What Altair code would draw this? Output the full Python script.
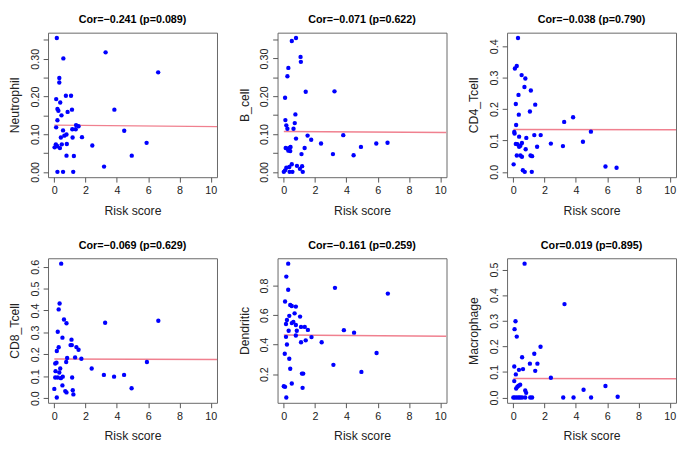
import altair as alt
import pandas as pd

# ---- data ----
names = ["Neutrophil", "B_cell", "CD4_Tcell", "CD8_Tcell", "Dendritic", "Macrophage"]
titles = ["Cor=\u22120.241 (p=0.089)", "Cor=\u22120.071 (p=0.622)", "Cor=\u22120.038 (p=0.790)",
          "Cor=\u22120.069 (p=0.629)", "Cor=\u22120.161 (p=0.259)", "Cor=0.019 (p=0.895)"]

risk_neutrophil = [0.16,0.58,3.28,6.64,0.32,0.32,0.12,0.38,0.74,1.07,0.20,0.26,1.13,0.85,0.46,0.20,3.84,0.12,1.39,1.55,0.56,1.15,1.37,4.47,0.78,0.64,0.42,1.17,1.77,0.10,0.48,0.80,0.02,0.20,0.36,2.43,5.90,0.78,1.25,4.95,3.18,0.20,0.56,1.21]
val_neutrophil = [0.355,0.301,0.317,0.264,0.249,0.237,0.193,0.184,0.202,0.202,0.167,0.162,0.165,0.159,0.150,0.137,0.165,0.118,0.124,0.121,0.110,0.113,0.113,0.109,0.099,0.096,0.091,0.091,0.092,0.073,0.073,0.074,0.065,0.068,0.063,0.070,0.077,0.043,0.042,0.043,0.014,0.0,0.0,0.0]

risk_bcell = [0.78,0.51,1.07,1.09,0.29,0.23,1.40,3.24,0.08,0.74,0.10,0.70,0.16,0.23,0.62,1.52,3.80,0.78,1.75,2.38,5.91,6.63,4.93,1.33,0.12,0.25,0.37,0.43,0.29,0.41,1.13,3.14,4.46,0.51,0.84,1.17,0.16,0.35,1.03,0.00,0.08,0.37,0.55,1.21]
val_bcell = [0.354,0.346,0.304,0.291,0.275,0.253,0.212,0.213,0.196,0.152,0.137,0.129,0.123,0.114,0.114,0.096,0.097,0.088,0.085,0.075,0.075,0.077,0.066,0.063,0.063,0.061,0.063,0.066,0.056,0.055,0.047,0.047,0.044,0.020,0.016,0.015,0.011,0.013,0.008,0.0,0.004,0.0,0.0,0.0]

risk_cd4 = [0.30,0.22,0.10,0.53,0.77,0.71,1.12,0.33,0.16,1.40,1.06,0.35,3.25,3.82,0.18,0.06,0.08,4.96,1.34,1.75,0.37,0.83,0.16,0.26,0.55,2.40,4.45,3.17,1.52,0.37,0.45,0.79,0.22,0.45,0.55,1.10,1.20,0.02,0.61,0.73,1.18,5.89,6.60]
val_cd4 = [0.426,0.337,0.329,0.308,0.297,0.270,0.259,0.245,0.216,0.214,0.192,0.182,0.159,0.174,0.149,0.127,0.122,0.128,0.117,0.117,0.112,0.108,0.089,0.088,0.092,0.090,0.096,0.082,0.080,0.080,0.083,0.072,0.052,0.052,0.048,0.052,0.050,0.024,0.005,0.0,0.0,0.017,0.013]

risk_cd8 = [0.44,0.34,0.28,0.62,0.78,3.25,6.65,0.22,0.52,1.10,1.04,1.12,1.41,0.28,1.55,0.16,0.82,1.33,1.73,0.76,5.92,0.06,0.14,0.38,0.32,2.39,0.08,0.06,0.22,0.42,0.54,1.14,3.17,3.82,4.46,0.52,4.94,0.00,0.70,0.78,1.18,1.22,0.16]
val_cd8 = [0.614,0.432,0.405,0.359,0.342,0.344,0.353,0.303,0.276,0.267,0.242,0.242,0.233,0.232,0.221,0.215,0.183,0.186,0.180,0.165,0.165,0.158,0.162,0.135,0.117,0.135,0.123,0.094,0.094,0.091,0.098,0.094,0.106,0.098,0.106,0.058,0.045,0.042,0.032,0.026,0.036,0.017,0.003]

risk_dendritic = [0.28,0.16,0.28,0.08,3.27,6.65,0.41,0.51,0.77,0.69,0.35,1.04,0.20,0.61,0.51,0.14,0.77,1.10,1.34,1.54,0.31,0.83,3.84,4.49,0.77,0.14,1.77,1.40,1.10,2.42,0.20,0.06,5.93,0.35,0.41,3.17,4.96,1.16,1.24,0.51,0.00,0.08,1.20,0.16]
val_dendritic = [0.949,0.861,0.772,0.692,0.785,0.746,0.669,0.662,0.658,0.612,0.595,0.590,0.567,0.554,0.546,0.540,0.533,0.520,0.520,0.500,0.494,0.494,0.498,0.481,0.462,0.453,0.451,0.429,0.416,0.416,0.401,0.338,0.343,0.304,0.237,0.263,0.215,0.204,0.204,0.137,0.118,0.114,0.107,0.042]

risk_macrophage = [0.72,3.27,0.14,0.08,0.22,1.74,1.34,0.56,1.06,1.54,1.40,0.06,0.36,0.62,0.16,2.40,0.06,0.18,0.26,0.34,0.44,0.76,0.82,5.89,4.49,6.67,0.00,0.10,0.22,0.34,0.44,0.56,0.76,1.08,1.20,3.19,3.85,4.97]
val_macrophage = [0.523,0.365,0.298,0.267,0.238,0.198,0.171,0.157,0.132,0.132,0.104,0.121,0.108,0.111,0.090,0.077,0.064,0.035,0.042,0.046,0.050,0.027,0.018,0.045,0.030,0.003,0,0,0,0,0,0,0,0,0,0,0,0]

# fitted line value at x=0 and at the right plot edge
line_start = [0.124, 0.107, 0.135, 0.179, 0.466, 0.074]
line_end = [0.120, 0.104, 0.134, 0.176, 0.457, 0.073]

x_ticks = [0, 2, 4, 6, 8, 10]
y_ticks = [
    [0, 0.05, 0.10, 0.15, 0.20, 0.25, 0.30, 0.35],
    [0, 0.05, 0.10, 0.15, 0.20, 0.25, 0.30, 0.35],
    [0.0, 0.1, 0.2, 0.3, 0.4],
    [0.0, 0.1, 0.2, 0.3, 0.4, 0.5, 0.6],
    [0.2, 0.4, 0.6, 0.8],
    [0.0, 0.1, 0.2, 0.3, 0.4, 0.5],
]
label_expr = [
    "round(datum.value*100) % 10 == 0 ? format(datum.value, '.2f') : ''",
    "round(datum.value*100) % 10 == 0 ? format(datum.value, '.2f') : ''",
    "format(datum.value, '.1f')",
    "format(datum.value, '.1f')",
    "format(datum.value, '.1f')",
    "format(datum.value, '.1f')",
]

xs_all = [risk_neutrophil, risk_bcell, risk_cd4, risk_cd8, risk_dendritic, risk_macrophage]
ys_all = [val_neutrophil, val_bcell, val_cd4, val_cd8, val_dendritic, val_macrophage]

FONT = "Liberation Sans"
XDOM = [-0.4, 10.4]
W, H = 173, 148


def panel(i):
    xs, ys = xs_all[i], ys_all[i]
    assert len(xs) == len(ys)
    lo, hi = min(ys), max(ys)
    pad = (hi - lo) * 0.04
    ydom = [lo - pad, hi + pad]
    df = pd.DataFrame({"risk": xs, "val": ys})
    ldf = pd.DataFrame({"risk": [0, XDOM[1]], "val": [line_start[i], line_end[i]]})
    xenc = alt.X("risk:Q", scale=alt.Scale(domain=XDOM, nice=False, zero=False),
                 axis=alt.Axis(values=x_ticks, title="Risk score", format="d",
                               labelOverlap=False, labelFlush=False, titlePadding=9))
    yenc = alt.Y("val:Q", scale=alt.Scale(domain=ydom, nice=False, zero=False),
                 axis=alt.Axis(values=y_ticks[i], labelExpr=label_expr[i], title=names[i],
                               labelOverlap=False, labelFlush=False, labelAngle=270,
                               labelAlign="center", labelBaseline="bottom", titlePadding=8))
    pts = alt.Chart(df).mark_circle(size=20, color="#0000FF", opacity=1).encode(x=xenc, y=yenc)
    ln = alt.Chart(ldf).mark_line(color="#F0808F", strokeWidth=1.5, clip=True).encode(x=xenc, y=yenc)
    return alt.layer(ln, pts).properties(
        width=W, height=H,
        title=alt.TitleParams(titles[i], fontSize=11, fontWeight="bold", font=FONT,
                              color="#000", offset=8, anchor="middle"),
    )


row1 = alt.hconcat(panel(0), panel(1), panel(2), spacing=20)
row2 = alt.hconcat(panel(3), panel(4), panel(5), spacing=20)
chart = alt.vconcat(row1, row2, spacing=22).properties(
    padding={"left": 0, "top": 0, "right": 0, "bottom": 0}
).configure_view(
    stroke="#666", strokeWidth=1
).configure_axis(
    grid=False, domain=False, labelFont=FONT, titleFont=FONT, labelFontSize=11,
    titleFontSize=12.5, titleFontWeight="normal", labelColor="#222", titleColor="#222",
    tickColor="#555", tickSize=5, labelPadding=3,
)

chart.save("out.html", embed_options={"renderer": "svg", "actions": False})
